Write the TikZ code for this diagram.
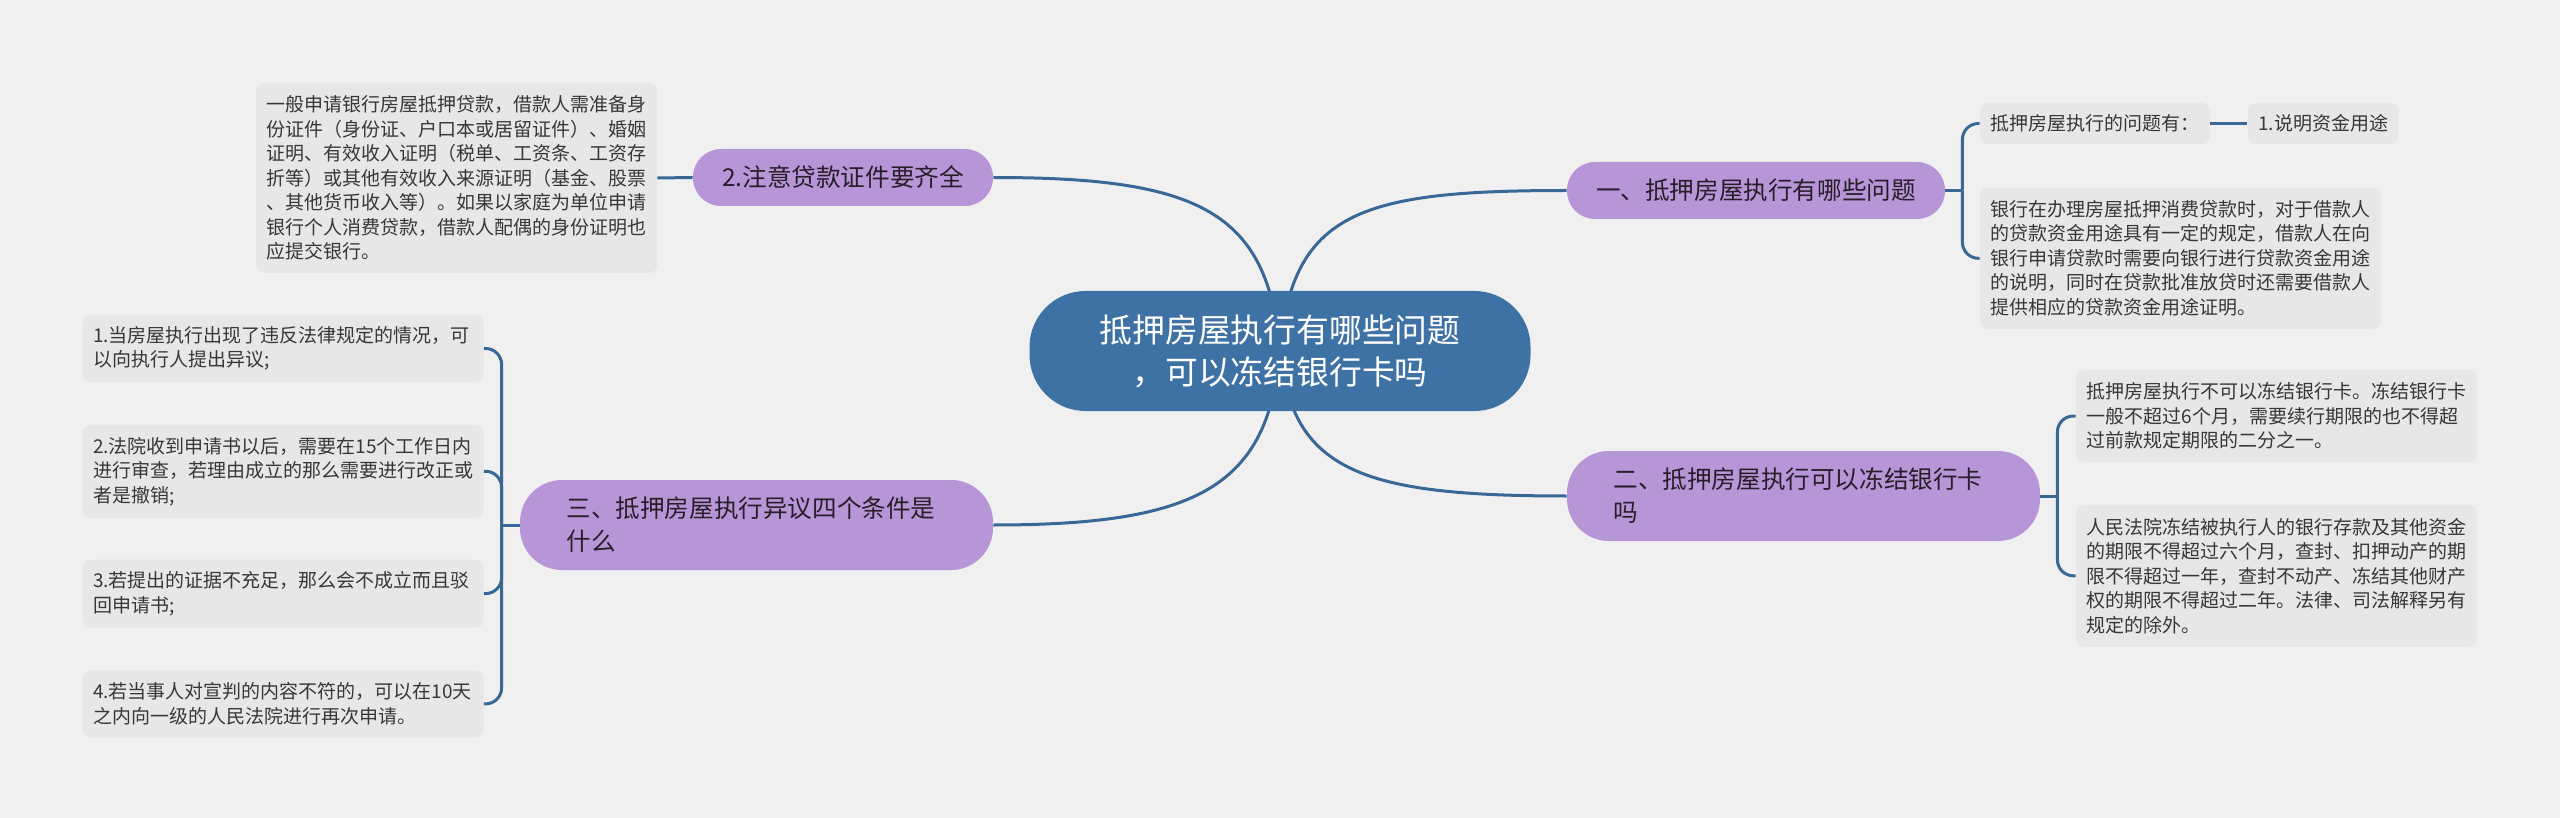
\documentclass[tikz,border=0pt]{standalone}
\usepackage{fontspec}
\setmainfont{Noto Sans CJK SC}
\usepackage{tikz}
\usepackage{xcolor}
\usetikzlibrary{positioning,backgrounds}
\definecolor{paper}{RGB}{240,240,240}
\definecolor{hubblue}{RGB}{62,114,165}
\definecolor{linkblue}{RGB}{58,104,150}
\definecolor{topicpurple}{RGB}{183,150,216}
\definecolor{notegray}{RGB}{231,231,231}
\definecolor{inkdark}{RGB}{38,30,40}
\definecolor{inknote}{RGB}{55,55,55}

\begin{document}
\begin{tikzpicture}[
    x=0.5pt,y=-0.5pt,
    hub/.style={rectangle,rounded corners=28pt,fill=hubblue,text=white,
      minimum width=250.5pt,minimum height=60pt,align=center,
      font=\fontsize{16.4}{21}\selectfont},
    topic/.style={rectangle,rounded corners=14pt,fill=topicpurple,text=inkdark,
      minimum height=28.5pt,inner xsep=0pt,font=\fontsize{12.3}{16.5}\selectfont},
    topicwide/.style={topic,rounded corners=21pt,minimum height=45pt,
      text width=190pt,align=left,inner xsep=23.25pt},
    note/.style={rectangle,rounded corners=4pt,fill=notegray,text=inknote,
      inner xsep=5.25pt,inner ysep=0pt,font=\fontsize{9.5}{12.25}\selectfont},
    notebox/.style={note,text width=190pt,align=left},
    link/.style={draw=linkblue,line width=1.5pt}
  ]
    \useasboundingbox (0,0) rectangle (2560,818);

    % centre and main topics
    \node[hub] (hub) at (1280,351) {抵押房屋执行有哪些问题\\，可以冻结银行卡吗};
    \node[topic,minimum width=189pt] (t1) at (1756,190.5) {一、抵押房屋执行有哪些问题};
    \node[topicwide] (t2) at (1803.5,496) {二、抵押房屋执行可以冻结银行卡\\吗};
    \node[topicwide] (t3) at (756.5,525) {三、抵押房屋执行异议四个条件是\\什么};
    \node[topic,minimum width=150pt] (tq) at (843,177.5) {2.注意贷款证件要齐全};

    % notes of topic one
    \node[note,minimum width=114pt,minimum height=20.5pt] (q1) at (2095,123.5) {抵押房屋执行的问题有：};
    \node[note,minimum width=74pt,minimum height=20.5pt,right=18.5pt of q1] (q1a) {1.说明资金用途};
    \node[notebox,minimum height=70.5pt,below=21.5pt of q1.south west,anchor=north west] (q2)
      {银行在办理房屋抵押消费贷款时，对于借款人\\的贷款资金用途具有一定的规定，借款人在向\\银行申请贷款时需要向银行进行贷款资金用途\\的说明，同时在贷款批准放贷时还需要借款人\\提供相应的贷款资金用途证明。};

    % notes of topic two
    \node[notebox,minimum height=46pt] (f1) at (2276.5,416)
      {抵押房屋执行不可以冻结银行卡。冻结银行卡\\一般不超过6个月，需要续行期限的也不得超\\过前款规定期限的二分之一。};
    \node[notebox,minimum height=71pt,below=21pt of f1] (f2)
      {人民法院冻结被执行人的银行存款及其他资金\\的期限不得超过六个月，查封、扣押动产的期\\限不得超过一年，查封不动产、冻结其他财产\\权的期限不得超过二年。法律、司法解释另有\\规定的除外。};

    % notes of topic three
    \node[notebox,minimum height=33.5pt] (c1) at (283,348.5)
      {1.当房屋执行出现了违反法律规定的情况，可\\以向执行人提出异议;};
    \node[notebox,minimum height=46.5pt,below=21pt of c1] (c2)
      {2.法院收到申请书以后，需要在15个工作日内\\进行审查，若理由成立的那么需要进行改正或\\者是撤销;};
    \node[notebox,minimum height=34pt,below=20.5pt of c2] (c3)
      {3.若提出的证据不充足，那么会不成立而且驳\\回申请书;};
    \node[notebox,minimum height=33.5pt,below=21pt of c3] (c4)
      {4.若当事人对宣判的内容不符的，可以在10天\\之内向一级的人民法院进行再次申请。};

    % note of the documents topic
    \node[notebox,minimum height=95pt] (d1) at (456.5,178)
      {一般申请银行房屋抵押贷款，借款人需准备身\\份证件（身份证、户口本或居留证件）、婚姻\\证明、有效收入证明（税单、工资条、工资存\\折等）或其他有效收入来源证明（基金、股票\\、其他货币收入等）。如果以家庭为单位申请\\银行个人消费贷款，借款人配偶的身份证明也\\应提交银行。};

    % curved branches from the centre
    \begin{scope}[on background layer]
      \fill[paper] (0,0) rectangle (2560,818);
      \draw[link] (hub.center) .. controls +(12,-140) and +(-205,0) .. (t1.west);
      \draw[link] (hub.center) .. controls +(12,120) and +(-205,0) .. (t2.west);
      \draw[link] (hub.center) .. controls +(-12,-140) and +(205,0) .. (tq.east);
      \draw[link] (hub.center) .. controls +(-12,135) and +(205,0) .. (t3.east);
    \end{scope}

    % brackets to the notes
    \coordinate[right=8.5pt of t1.east] (k1);
    \draw[link] (t1.east) -- (k1);
    \draw[link,rounded corners=8pt] (k1) |- (q1.west);
    \draw[link,rounded corners=8pt] (k1) |- (q2.west);
    \draw[link] (q1.east) -- (q1a.west);

    \coordinate[right=8.5pt of t2.east] (k2);
    \draw[link] (t2.east) -- (k2);
    \draw[link,rounded corners=8pt] (k2) |- (f1.west);
    \draw[link,rounded corners=8pt] (k2) |- (f2.west);

    \coordinate[left=9pt of t3.west] (k3);
    \draw[link] (t3.west) -- (k3);
    \foreach \c in {c1,c2,c3,c4}
      \draw[link,rounded corners=8pt] (k3) |- (\c.east);

    \draw[link] (tq.west) -- (d1.east);
  \end{tikzpicture}
\end{document}
